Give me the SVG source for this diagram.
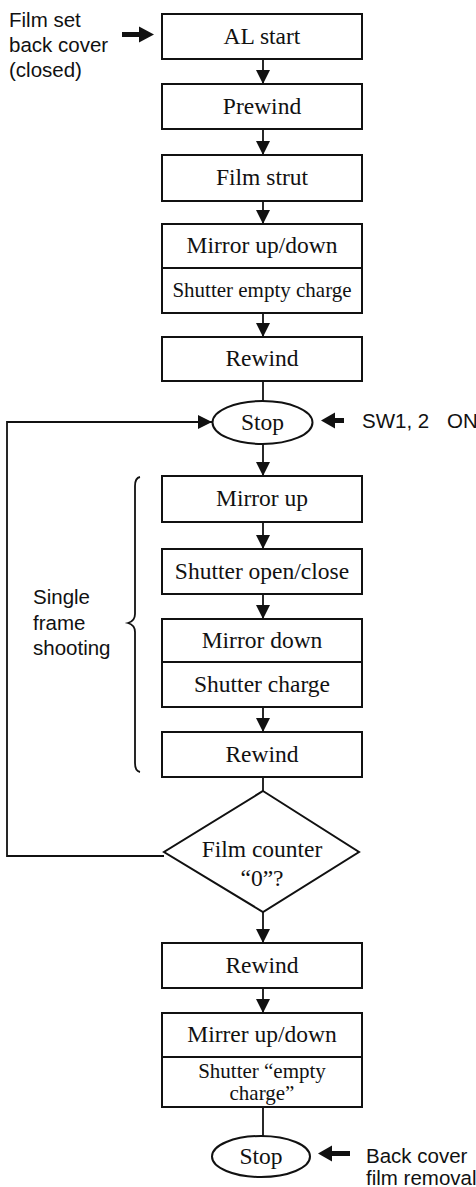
<svg xmlns="http://www.w3.org/2000/svg" width="476" height="1187" viewBox="0 0 476 1187">
  <style>
    .box { fill: #fff; stroke: #111; stroke-width: 2; }
    .div { stroke: #111; stroke-width: 2; fill: none; }
    .lbl { font-family: "Liberation Serif", "Times New Roman", serif; font-size: 23.5px; fill: #111; text-anchor: middle; }
    .sm { font-size: 21px; }
    .side { font-family: "Liberation Sans", Arial, sans-serif; font-size: 20.5px; fill: #111; }
    .wire { stroke: #111; stroke-width: 1.8; fill: none; }
    .head { fill: #111; }
  </style>
  <defs>
    <marker id="tri" viewBox="0 0 14 14" refX="14" refY="7" markerWidth="14" markerHeight="14" markerUnits="userSpaceOnUse" orient="auto">
      <path d="M0,0 L14,7 L0,14 Z" class="head"/>
    </marker>
  </defs>

  <rect width="476" height="1187" fill="#fff"/>

  <!-- connectors -->
  <g id="connectors">
    <line class="wire" x1="263" y1="59" x2="263" y2="84" marker-end="url(#tri)"/>
    <line class="wire" x1="263" y1="129" x2="263" y2="155" marker-end="url(#tri)"/>
    <line class="wire" x1="263" y1="201" x2="263" y2="224" marker-end="url(#tri)"/>
    <line class="wire" x1="263" y1="313" x2="263" y2="337" marker-end="url(#tri)"/>
    <line class="wire" x1="263" y1="381" x2="263" y2="401"/>
    <line class="wire" x1="263" y1="444" x2="263" y2="476" marker-end="url(#tri)"/>
    <line class="wire" x1="263" y1="522" x2="263" y2="549" marker-end="url(#tri)"/>
    <line class="wire" x1="263" y1="594" x2="263" y2="619" marker-end="url(#tri)"/>
    <line class="wire" x1="263" y1="707" x2="263" y2="732" marker-end="url(#tri)"/>
    <line class="wire" x1="263" y1="777" x2="263" y2="791"/>
    <line class="wire" x1="263" y1="911" x2="263" y2="943" marker-end="url(#tri)"/>
    <line class="wire" x1="263" y1="988" x2="263" y2="1013" marker-end="url(#tri)"/>
    <line class="wire" x1="263" y1="1107" x2="263" y2="1136"/>
    <!-- loop back from the counter check to the stop state -->
    <polyline class="wire" points="164,856 7,856 7,422 212,422" marker-end="url(#tri)"/>
    <!-- external event arrows -->
    <g id="ev-filmset">
      <rect x="122" y="32" width="20" height="5" class="head"/>
      <path d="M139,26.5 L154,34.5 L139,42.5 Z" class="head"/>
    </g>
    <g id="ev-sw">
      <rect x="332" y="418" width="12" height="5" class="head"/>
      <path d="M335,412.5 L321,420.5 L335,428.5 Z" class="head"/>
    </g>
    <g id="ev-back">
      <rect x="328" y="1151" width="22" height="5" class="head"/>
      <path d="M332,1145.5 L318,1153.5 L332,1161.5 Z" class="head"/>
    </g>
  </g>

  <g id="n-alstart">
    <rect class="box" x="162" y="14" width="200" height="45"/>
    <text class="lbl" x="262" y="44">AL start</text>
  </g>
  <g id="n-prewind">
    <rect class="box" x="162" y="84" width="200" height="45"/>
    <text class="lbl" x="262" y="114">Prewind</text>
  </g>
  <g id="n-filmstrut">
    <rect class="box" x="162" y="155" width="200" height="46"/>
    <text class="lbl" x="262" y="185">Film strut</text>
  </g>
  <g id="n-mirror1">
    <rect class="box" x="162" y="224" width="200" height="89"/>
    <line class="div" x1="162" y1="268" x2="362" y2="268"/>
    <text class="lbl" x="262" y="253">Mirror up/down</text>
    <text class="lbl sm" x="262" y="297">Shutter empty charge</text>
  </g>
  <g id="n-rewind1">
    <rect class="box" x="162" y="337" width="200" height="44"/>
    <text class="lbl" x="262" y="366">Rewind</text>
  </g>
  <g id="n-stop1">
    <ellipse class="box" cx="262.5" cy="422.5" rx="50" ry="21.5"/>
    <text class="lbl" x="262.5" y="430">Stop</text>
  </g>
  <g id="n-mirrorup">
    <rect class="box" x="162" y="476" width="200" height="46"/>
    <text class="lbl" x="262" y="506">Mirror up</text>
  </g>
  <g id="n-shutter">
    <rect class="box" x="162" y="549" width="200" height="45"/>
    <text class="lbl" x="262" y="579">Shutter open/close</text>
  </g>
  <g id="n-mirrordown">
    <rect class="box" x="162" y="619" width="200" height="88"/>
    <line class="div" x1="162" y1="662" x2="362" y2="662"/>
    <text class="lbl" x="262" y="648">Mirror down</text>
    <text class="lbl" x="262" y="692">Shutter charge</text>
  </g>
  <g id="n-rewind2">
    <rect class="box" x="162" y="732" width="200" height="45"/>
    <text class="lbl" x="262" y="762">Rewind</text>
  </g>
  <g id="n-counter">
    <path class="box" d="M263,791 L359,852 L263,912 L164,852 Z"/>
    <text class="lbl" x="262" y="857">Film counter</text>
    <text class="lbl" x="262" y="886">“0”?</text>
  </g>
  <g id="n-rewind3">
    <rect class="box" x="162" y="943" width="200" height="45"/>
    <text class="lbl" x="262" y="973">Rewind</text>
  </g>
  <g id="n-mirror2">
    <rect class="box" x="162" y="1013" width="200" height="94"/>
    <line class="div" x1="162" y1="1057" x2="362" y2="1057"/>
    <text class="lbl" x="262" y="1042">Mirrer up/down</text>
    <text class="lbl sm" x="262" y="1078">Shutter “empty</text>
    <text class="lbl sm" x="262" y="1100">charge”</text>
  </g>
  <g id="n-stop2">
    <ellipse class="box" cx="261" cy="1156.5" rx="49" ry="20.5"/>
    <text class="lbl" x="261" y="1164">Stop</text>
  </g>

  <!-- side notes -->
  <g id="note-filmset">
    <text class="side" x="9" y="27">Film set</text>
    <text class="side" x="9" y="52">back cover</text>
    <text class="side" x="9" y="77">(closed)</text>
  </g>
  <g id="note-sw">
    <text class="side" x="362" y="428">SW1, 2 <tspan x="447">ON</tspan></text>
  </g>
  <g id="note-single">
    <path class="wire" d="M140,477 Q135,478 135,486 L135,614 Q135,621 128,623 Q135,625 135,632 L135,763 Q135,771 140,772"/>
    <text class="side" x="33" y="604">Single</text>
    <text class="side" x="33" y="630">frame</text>
    <text class="side" x="33" y="655">shooting</text>
  </g>
  <g id="note-back">
    <text class="side" x="366" y="1163">Back cover</text>
    <text class="side" x="366" y="1185">film removal</text>
  </g>
</svg>
